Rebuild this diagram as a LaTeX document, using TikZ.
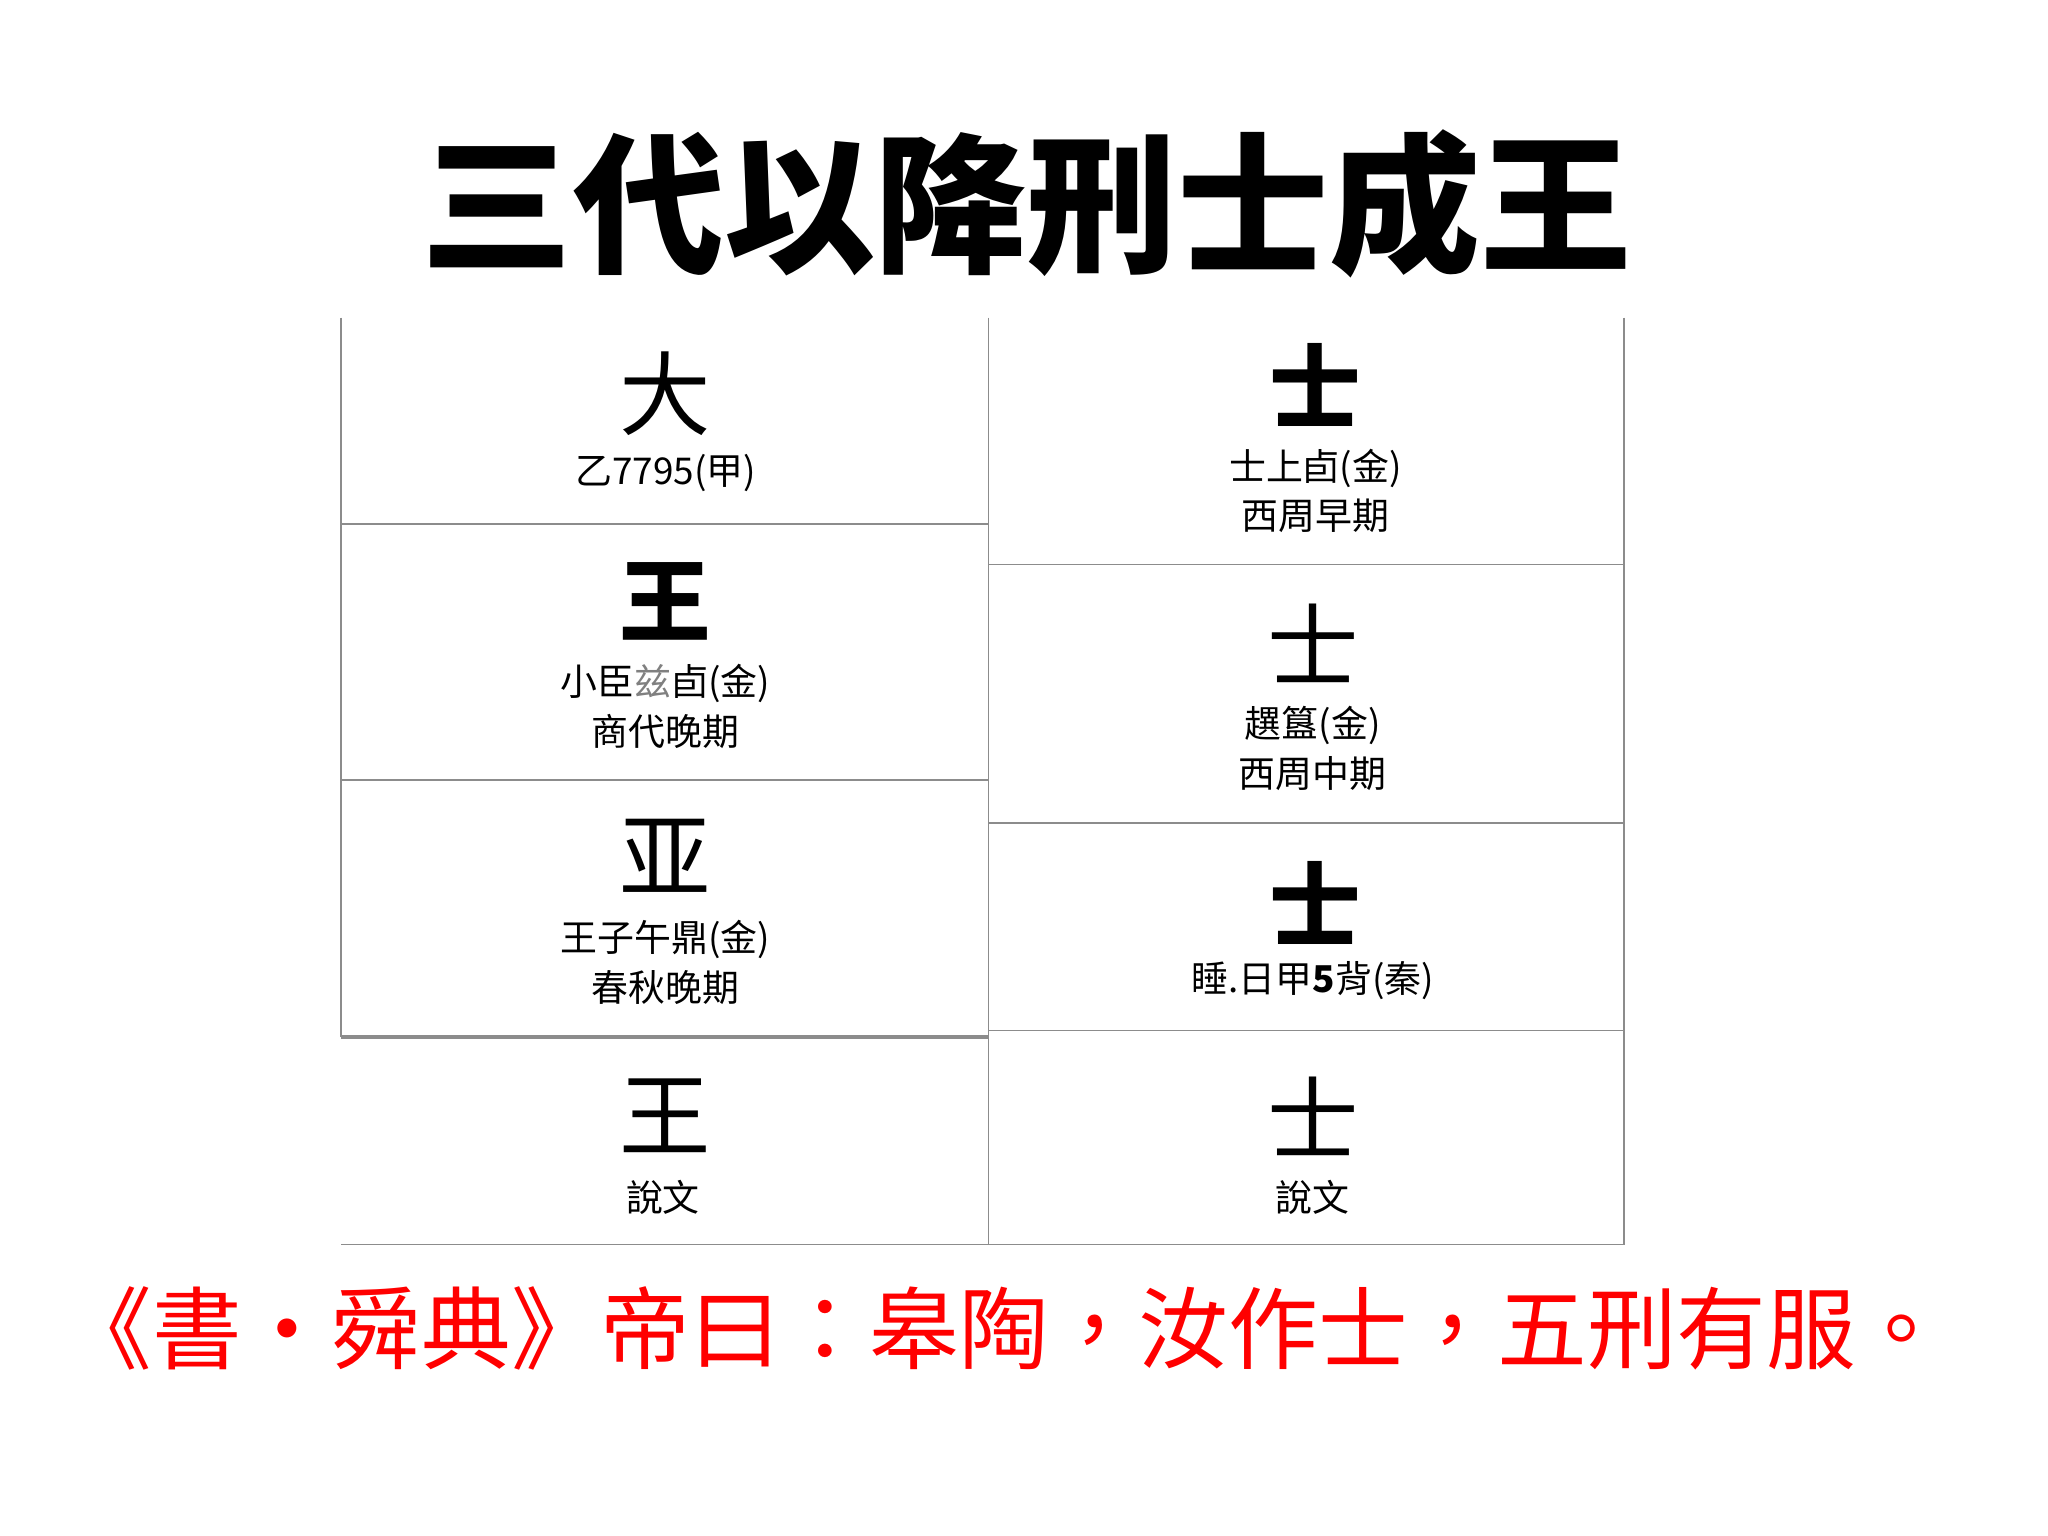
\documentclass[tikz,border=0pt]{standalone}
\usepackage{fontspec}
\setmainfont{Noto Sans CJK TC}
\newfontfamily\cjkb{Noto Sans CJK TC Black}
\newfontfamily\cjk{Noto Sans CJK TC}
\begin{document}
\begin{tikzpicture}[x=0.01313cm,y=-0.01313cm,
  grid/.style={draw=black!45,line width=0.5pt},
  glyph/.style={font=\cjkb\fontsize{26}{26}\selectfont,inner sep=0},
  thin/.style={font=\cjk\fontsize{26}{26}\selectfont,inner sep=0},
  lbl/.style={font=\cjk\fontsize{10.5}{14}\selectfont,align=center,inner sep=0}]
\useasboundingbox (0,0) rectangle (1560,1170);
\node[font=\cjkb\fontsize{43}{43}\selectfont] (title) at (782,155) {三代以降刑士成王};
% grid
\draw[grid] (260,242) -- (260,790);
\draw[grid] (753,242) -- (753,948);
\draw[grid] (1237,242) -- (1237,948);
\draw[grid] (260,399) -- (753,399);
\draw[grid] (260,594) -- (753,594);
\draw[grid,line width=1pt] (260,790) -- (753,790);
\draw[grid] (260,948) -- (1237,948);
\draw[grid] (753,430) -- (1237,430);
\draw[grid] (753,627) -- (1237,627);
\draw[grid] (753,785) -- (1237,785);
% left column
\node[thin] (l1g) at (507,300) {大};
\node[lbl] (l1t) at (507,360) {乙7795(甲)};
\node[glyph] (l2g) at (507,458) {王};
\node[lbl] (l2t) at (507,538) {小臣{\color{black!50}兹}卣(金)\\商代晚期};
\node[thin] (l3g) at (507,652) {亚};
\node[lbl] (l3t) at (507,733) {王子午鼎(金)\\春秋晚期};
\node[thin] (l4g) at (507,850) {王};
\node[lbl] (l4t) at (505,912) {說文};
% right column
\node[glyph] (r1g) at (1002,293) {士};
\node[lbl] (r1t) at (1002,374) {士上卣(金)\\西周早期};
\node[thin] (r2g) at (1000,490) {士};
\node[lbl] (r2t) at (1000,570) {趩簋(金)\\西周中期};
\node[glyph] (r3g) at (1002,688) {士};
\node[lbl] (r3t) at (1000,747) {睡.日甲\textbf{5}背(秦)};
\node[thin] (r4g) at (1000,850) {士};
\node[lbl] (r4t) at (1000,912) {說文};
\node[font=\cjk\fontsize{25.5}{25.5}\selectfont,text=red] (quote) at (765,1012) {《書·舜典》帝曰：皋陶，汝作士，五刑有服。};
\end{tikzpicture}
\end{document}
